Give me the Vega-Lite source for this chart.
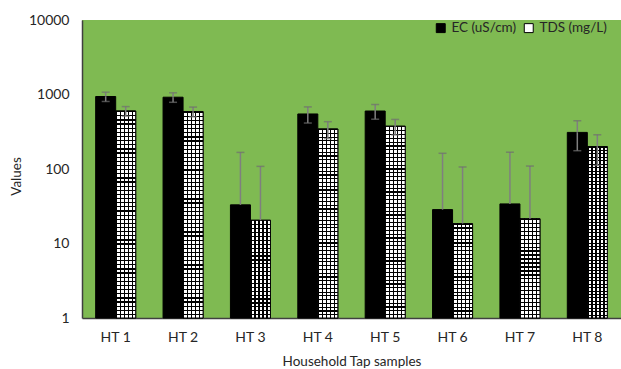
{
 "$schema": "https://vega.github.io/schema/vega-lite/v6.json",
 "width": 539,
 "height": 298,
 "autosize": {"type": "none"},
 "padding": {"left": 82, "top": 20, "right": 0, "bottom": 51},
 "background": "#ffffff",
 "config": {
  "view": {"fill": "#7fba52", "stroke": null},
  "font": "Lato",
  "axis": {"labelFontSize": 14, "labelColor": "#262626", "titleFontSize": 13.5, "titleFontWeight": "normal", "titleColor": "#262626", "domainColor": "#404040", "domainWidth": 1.5, "ticks": false, "grid": false}
 },
 "data": {"values": [
  {"sample": "HT 1", "series": "EC (uS/cm)", "value": 940, "hi": 1074, "lo": 806},
  {"sample": "HT 1", "series": "TDS (mg/L)", "value": 600, "hi": 688, "lo": 512},
  {"sample": "HT 2", "series": "EC (uS/cm)", "value": 920, "hi": 1054, "lo": 786},
  {"sample": "HT 2", "series": "TDS (mg/L)", "value": 590, "hi": 678, "lo": 502},
  {"sample": "HT 3", "series": "EC (uS/cm)", "value": 33, "hi": 167, "lo": null},
  {"sample": "HT 3", "series": "TDS (mg/L)", "value": 20.5, "hi": 108.5, "lo": null},
  {"sample": "HT 4", "series": "EC (uS/cm)", "value": 548, "hi": 682, "lo": 414},
  {"sample": "HT 4", "series": "TDS (mg/L)", "value": 344, "hi": 432, "lo": 256},
  {"sample": "HT 5", "series": "EC (uS/cm)", "value": 600, "hi": 734, "lo": 466},
  {"sample": "HT 5", "series": "TDS (mg/L)", "value": 375, "hi": 463, "lo": 287},
  {"sample": "HT 6", "series": "EC (uS/cm)", "value": 28.5, "hi": 162.5, "lo": null},
  {"sample": "HT 6", "series": "TDS (mg/L)", "value": 18.5, "hi": 106.5, "lo": null},
  {"sample": "HT 7", "series": "EC (uS/cm)", "value": 34, "hi": 168, "lo": null},
  {"sample": "HT 7", "series": "TDS (mg/L)", "value": 21.5, "hi": 109.5, "lo": null},
  {"sample": "HT 8", "series": "EC (uS/cm)", "value": 310, "hi": 444, "lo": 176},
  {"sample": "HT 8", "series": "TDS (mg/L)", "value": 200, "hi": 288, "lo": 112}
 ]},
 "encoding": {
  "x": {"field": "sample", "type": "nominal", "sort": null, "scale": {"paddingInner": 0.406, "paddingOuter": 0.203},
   "axis": {"title": "Household Tap samples", "labelAngle": 0, "labelPadding": 12, "titleY": 43, "titleBaseline": "middle"}},
  "xOffset": {"field": "series", "type": "nominal", "sort": null, "scale": {"domain": ["EC (uS/cm)", "TDS (mg/L)"]}}
 },
 "layer": [
  {
   "mark": {"type": "bar", "stroke": "#000000", "strokeWidth": 1},
   "encoding": {
    "y": {"field": "value", "type": "quantitative", "title": "Values",
     "scale": {"type": "log", "domain": [1, 10000], "nice": false},
     "axis": {"values": [1, 10, 100, 1000, 10000], "format": "d", "labelPadding": 13, "titleX": -66, "titleY": 156, "titleAngle": -90, "titleAlign": "center", "titleBaseline": "middle"}},
    "y2": {"datum": 1},
    "fill": {"field": "series", "type": "nominal", "scale": {"domain": ["EC (uS/cm)", "TDS (mg/L)"], "range": ["#000000", "#ffffff"]},
     "legend": {"title": null, "orient": "none", "legendX": 352, "legendY": 1, "direction": "horizontal", "symbolType": "square", "symbolSize": 80, "symbolStrokeColor": "#000000", "symbolStrokeWidth": 1, "labelFontSize": 13.5, "labelColor": "#262626", "columnPadding": 5, "labelOffset": 4, "padding": 0}}
   }
  },
  {
   "transform": [{"filter": "datum.series === 'TDS (mg/L)'"}],
   "mark": {"type": "bar", "stroke": "#000000", "strokeWidth": 1,
    "fill": {"gradient": "linear", "x1": 0, "y1": 0, "x2": 1, "y2": 0, "stops": [
     {"offset": 0, "color": "#000000"}, {"offset": 0.06, "color": "#000000"}, {"offset": 0.06, "color": "#ffffff"}, {"offset": 0.2, "color": "#ffffff"},
     {"offset": 0.2, "color": "#000000"}, {"offset": 0.26, "color": "#000000"}, {"offset": 0.26, "color": "#ffffff"}, {"offset": 0.4, "color": "#ffffff"},
     {"offset": 0.4, "color": "#000000"}, {"offset": 0.46, "color": "#000000"}, {"offset": 0.46, "color": "#ffffff"}, {"offset": 0.6, "color": "#ffffff"},
     {"offset": 0.6, "color": "#000000"}, {"offset": 0.66, "color": "#000000"}, {"offset": 0.66, "color": "#ffffff"}, {"offset": 0.8, "color": "#ffffff"},
     {"offset": 0.8, "color": "#000000"}, {"offset": 0.86, "color": "#000000"}, {"offset": 0.86, "color": "#ffffff"}, {"offset": 1, "color": "#ffffff"}]}},
   "encoding": {"y": {"field": "value", "type": "quantitative", "title": "Values"}, "y2": {"datum": 1}}
  },
  {
   "transform": [{"filter": "datum.series === 'TDS (mg/L)' && indexof(['HT 3','HT 6','HT 7'], datum.sample) < 0"}],
   "mark": {"type": "bar", "strokeWidth": 0,
    "fill": {"gradient": "linear", "x1": 0, "y1": 0, "x2": 0, "y2": 1, "stops": [
     {"offset": 0, "color": "#000"}, {"offset": 0.006, "color": "#000"}, {"offset": 0.006, "color": "transparent"}, {"offset": 0.02, "color": "transparent"},
     {"offset": 0.02, "color": "#000"}, {"offset": 0.026, "color": "#000"}, {"offset": 0.026, "color": "transparent"}, {"offset": 0.04, "color": "transparent"},
     {"offset": 0.04, "color": "#000"}, {"offset": 0.046, "color": "#000"}, {"offset": 0.046, "color": "transparent"}, {"offset": 0.06, "color": "transparent"},
     {"offset": 0.06, "color": "#000"}, {"offset": 0.066, "color": "#000"}, {"offset": 0.066, "color": "transparent"}, {"offset": 0.08, "color": "transparent"},
     {"offset": 0.08, "color": "#000"}, {"offset": 0.086, "color": "#000"}, {"offset": 0.086, "color": "transparent"}, {"offset": 0.1, "color": "transparent"},
     {"offset": 0.1, "color": "#000"}, {"offset": 0.106, "color": "#000"}, {"offset": 0.106, "color": "transparent"}, {"offset": 0.12, "color": "transparent"},
     {"offset": 0.12, "color": "#000"}, {"offset": 0.126, "color": "#000"}, {"offset": 0.126, "color": "transparent"}, {"offset": 0.14, "color": "transparent"},
     {"offset": 0.14, "color": "#000"}, {"offset": 0.146, "color": "#000"}, {"offset": 0.146, "color": "transparent"}, {"offset": 0.16, "color": "transparent"},
     {"offset": 0.16, "color": "#000"}, {"offset": 0.166, "color": "#000"}, {"offset": 0.166, "color": "transparent"}, {"offset": 0.18, "color": "transparent"},
     {"offset": 0.18, "color": "#000"}, {"offset": 0.186, "color": "#000"}, {"offset": 0.186, "color": "transparent"}, {"offset": 0.2, "color": "transparent"},
     {"offset": 0.2, "color": "#000"}, {"offset": 0.206, "color": "#000"}, {"offset": 0.206, "color": "transparent"}, {"offset": 0.22, "color": "transparent"},
     {"offset": 0.22, "color": "#000"}, {"offset": 0.226, "color": "#000"}, {"offset": 0.226, "color": "transparent"}, {"offset": 0.24, "color": "transparent"},
     {"offset": 0.24, "color": "#000"}, {"offset": 0.246, "color": "#000"}, {"offset": 0.246, "color": "transparent"}, {"offset": 0.26, "color": "transparent"},
     {"offset": 0.26, "color": "#000"}, {"offset": 0.266, "color": "#000"}, {"offset": 0.266, "color": "transparent"}, {"offset": 0.28, "color": "transparent"},
     {"offset": 0.28, "color": "#000"}, {"offset": 0.286, "color": "#000"}, {"offset": 0.286, "color": "transparent"}, {"offset": 0.3, "color": "transparent"},
     {"offset": 0.3, "color": "#000"}, {"offset": 0.306, "color": "#000"}, {"offset": 0.306, "color": "transparent"}, {"offset": 0.32, "color": "transparent"},
     {"offset": 0.32, "color": "#000"}, {"offset": 0.326, "color": "#000"}, {"offset": 0.326, "color": "transparent"}, {"offset": 0.34, "color": "transparent"},
     {"offset": 0.34, "color": "#000"}, {"offset": 0.346, "color": "#000"}, {"offset": 0.346, "color": "transparent"}, {"offset": 0.36, "color": "transparent"},
     {"offset": 0.36, "color": "#000"}, {"offset": 0.366, "color": "#000"}, {"offset": 0.366, "color": "transparent"}, {"offset": 0.38, "color": "transparent"},
     {"offset": 0.38, "color": "#000"}, {"offset": 0.386, "color": "#000"}, {"offset": 0.386, "color": "transparent"}, {"offset": 0.4, "color": "transparent"},
     {"offset": 0.4, "color": "#000"}, {"offset": 0.406, "color": "#000"}, {"offset": 0.406, "color": "transparent"}, {"offset": 0.42, "color": "transparent"},
     {"offset": 0.42, "color": "#000"}, {"offset": 0.426, "color": "#000"}, {"offset": 0.426, "color": "transparent"}, {"offset": 0.44, "color": "transparent"},
     {"offset": 0.44, "color": "#000"}, {"offset": 0.446, "color": "#000"}, {"offset": 0.446, "color": "transparent"}, {"offset": 0.46, "color": "transparent"},
     {"offset": 0.46, "color": "#000"}, {"offset": 0.466, "color": "#000"}, {"offset": 0.466, "color": "transparent"}, {"offset": 0.48, "color": "transparent"},
     {"offset": 0.48, "color": "#000"}, {"offset": 0.486, "color": "#000"}, {"offset": 0.486, "color": "transparent"}, {"offset": 0.5, "color": "transparent"},
     {"offset": 0.5, "color": "#000"}, {"offset": 0.506, "color": "#000"}, {"offset": 0.506, "color": "transparent"}, {"offset": 0.52, "color": "transparent"},
     {"offset": 0.52, "color": "#000"}, {"offset": 0.526, "color": "#000"}, {"offset": 0.526, "color": "transparent"}, {"offset": 0.54, "color": "transparent"},
     {"offset": 0.54, "color": "#000"}, {"offset": 0.546, "color": "#000"}, {"offset": 0.546, "color": "transparent"}, {"offset": 0.56, "color": "transparent"},
     {"offset": 0.56, "color": "#000"}, {"offset": 0.566, "color": "#000"}, {"offset": 0.566, "color": "transparent"}, {"offset": 0.58, "color": "transparent"},
     {"offset": 0.58, "color": "#000"}, {"offset": 0.586, "color": "#000"}, {"offset": 0.586, "color": "transparent"}, {"offset": 0.6, "color": "transparent"},
     {"offset": 0.6, "color": "#000"}, {"offset": 0.606, "color": "#000"}, {"offset": 0.606, "color": "transparent"}, {"offset": 0.62, "color": "transparent"},
     {"offset": 0.62, "color": "#000"}, {"offset": 0.626, "color": "#000"}, {"offset": 0.626, "color": "transparent"}, {"offset": 0.64, "color": "transparent"},
     {"offset": 0.64, "color": "#000"}, {"offset": 0.646, "color": "#000"}, {"offset": 0.646, "color": "transparent"}, {"offset": 0.66, "color": "transparent"},
     {"offset": 0.66, "color": "#000"}, {"offset": 0.666, "color": "#000"}, {"offset": 0.666, "color": "transparent"}, {"offset": 0.68, "color": "transparent"},
     {"offset": 0.68, "color": "#000"}, {"offset": 0.686, "color": "#000"}, {"offset": 0.686, "color": "transparent"}, {"offset": 0.7, "color": "transparent"},
     {"offset": 0.7, "color": "#000"}, {"offset": 0.706, "color": "#000"}, {"offset": 0.706, "color": "transparent"}, {"offset": 0.72, "color": "transparent"},
     {"offset": 0.72, "color": "#000"}, {"offset": 0.726, "color": "#000"}, {"offset": 0.726, "color": "transparent"}, {"offset": 0.74, "color": "transparent"},
     {"offset": 0.74, "color": "#000"}, {"offset": 0.746, "color": "#000"}, {"offset": 0.746, "color": "transparent"}, {"offset": 0.76, "color": "transparent"},
     {"offset": 0.76, "color": "#000"}, {"offset": 0.766, "color": "#000"}, {"offset": 0.766, "color": "transparent"}, {"offset": 0.78, "color": "transparent"},
     {"offset": 0.78, "color": "#000"}, {"offset": 0.786, "color": "#000"}, {"offset": 0.786, "color": "transparent"}, {"offset": 0.8, "color": "transparent"},
     {"offset": 0.8, "color": "#000"}, {"offset": 0.806, "color": "#000"}, {"offset": 0.806, "color": "transparent"}, {"offset": 0.82, "color": "transparent"},
     {"offset": 0.82, "color": "#000"}, {"offset": 0.826, "color": "#000"}, {"offset": 0.826, "color": "transparent"}, {"offset": 0.84, "color": "transparent"},
     {"offset": 0.84, "color": "#000"}, {"offset": 0.846, "color": "#000"}, {"offset": 0.846, "color": "transparent"}, {"offset": 0.86, "color": "transparent"},
     {"offset": 0.86, "color": "#000"}, {"offset": 0.866, "color": "#000"}, {"offset": 0.866, "color": "transparent"}, {"offset": 0.88, "color": "transparent"},
     {"offset": 0.88, "color": "#000"}, {"offset": 0.886, "color": "#000"}, {"offset": 0.886, "color": "transparent"}, {"offset": 0.9, "color": "transparent"},
     {"offset": 0.9, "color": "#000"}, {"offset": 0.906, "color": "#000"}, {"offset": 0.906, "color": "transparent"}, {"offset": 0.92, "color": "transparent"},
     {"offset": 0.92, "color": "#000"}, {"offset": 0.926, "color": "#000"}, {"offset": 0.926, "color": "transparent"}, {"offset": 0.94, "color": "transparent"},
     {"offset": 0.94, "color": "#000"}, {"offset": 0.946, "color": "#000"}, {"offset": 0.946, "color": "transparent"}, {"offset": 0.96, "color": "transparent"},
     {"offset": 0.96, "color": "#000"}, {"offset": 0.966, "color": "#000"}, {"offset": 0.966, "color": "transparent"}, {"offset": 0.98, "color": "transparent"},
     {"offset": 0.98, "color": "#000"}, {"offset": 0.986, "color": "#000"}, {"offset": 0.986, "color": "transparent"}, {"offset": 1, "color": "transparent"}]}},
   "encoding": {"y": {"field": "value", "type": "quantitative", "title": "Values"}, "y2": {"datum": 1}}
  },
  {
   "transform": [{"filter": "datum.series === 'TDS (mg/L)' && indexof(['HT 3','HT 6','HT 7'], datum.sample) >= 0"}],
   "mark": {"type": "bar", "strokeWidth": 0,
    "fill": {"gradient": "linear", "x1": 0, "y1": 0, "x2": 0, "y2": 1, "stops": [
     {"offset": 0, "color": "#000"}, {"offset": 0.012, "color": "#000"}, {"offset": 0.012, "color": "transparent"}, {"offset": 0.04, "color": "transparent"},
     {"offset": 0.04, "color": "#000"}, {"offset": 0.052, "color": "#000"}, {"offset": 0.052, "color": "transparent"}, {"offset": 0.08, "color": "transparent"},
     {"offset": 0.08, "color": "#000"}, {"offset": 0.092, "color": "#000"}, {"offset": 0.092, "color": "transparent"}, {"offset": 0.12, "color": "transparent"},
     {"offset": 0.12, "color": "#000"}, {"offset": 0.132, "color": "#000"}, {"offset": 0.132, "color": "transparent"}, {"offset": 0.16, "color": "transparent"},
     {"offset": 0.16, "color": "#000"}, {"offset": 0.172, "color": "#000"}, {"offset": 0.172, "color": "transparent"}, {"offset": 0.2, "color": "transparent"},
     {"offset": 0.2, "color": "#000"}, {"offset": 0.212, "color": "#000"}, {"offset": 0.212, "color": "transparent"}, {"offset": 0.24, "color": "transparent"},
     {"offset": 0.24, "color": "#000"}, {"offset": 0.252, "color": "#000"}, {"offset": 0.252, "color": "transparent"}, {"offset": 0.28, "color": "transparent"},
     {"offset": 0.28, "color": "#000"}, {"offset": 0.292, "color": "#000"}, {"offset": 0.292, "color": "transparent"}, {"offset": 0.32, "color": "transparent"},
     {"offset": 0.32, "color": "#000"}, {"offset": 0.332, "color": "#000"}, {"offset": 0.332, "color": "transparent"}, {"offset": 0.36, "color": "transparent"},
     {"offset": 0.36, "color": "#000"}, {"offset": 0.372, "color": "#000"}, {"offset": 0.372, "color": "transparent"}, {"offset": 0.4, "color": "transparent"},
     {"offset": 0.4, "color": "#000"}, {"offset": 0.412, "color": "#000"}, {"offset": 0.412, "color": "transparent"}, {"offset": 0.44, "color": "transparent"},
     {"offset": 0.44, "color": "#000"}, {"offset": 0.452, "color": "#000"}, {"offset": 0.452, "color": "transparent"}, {"offset": 0.48, "color": "transparent"},
     {"offset": 0.48, "color": "#000"}, {"offset": 0.492, "color": "#000"}, {"offset": 0.492, "color": "transparent"}, {"offset": 0.52, "color": "transparent"},
     {"offset": 0.52, "color": "#000"}, {"offset": 0.532, "color": "#000"}, {"offset": 0.532, "color": "transparent"}, {"offset": 0.56, "color": "transparent"},
     {"offset": 0.56, "color": "#000"}, {"offset": 0.572, "color": "#000"}, {"offset": 0.572, "color": "transparent"}, {"offset": 0.6, "color": "transparent"},
     {"offset": 0.6, "color": "#000"}, {"offset": 0.612, "color": "#000"}, {"offset": 0.612, "color": "transparent"}, {"offset": 0.64, "color": "transparent"},
     {"offset": 0.64, "color": "#000"}, {"offset": 0.652, "color": "#000"}, {"offset": 0.652, "color": "transparent"}, {"offset": 0.68, "color": "transparent"},
     {"offset": 0.68, "color": "#000"}, {"offset": 0.692, "color": "#000"}, {"offset": 0.692, "color": "transparent"}, {"offset": 0.72, "color": "transparent"},
     {"offset": 0.72, "color": "#000"}, {"offset": 0.732, "color": "#000"}, {"offset": 0.732, "color": "transparent"}, {"offset": 0.76, "color": "transparent"},
     {"offset": 0.76, "color": "#000"}, {"offset": 0.772, "color": "#000"}, {"offset": 0.772, "color": "transparent"}, {"offset": 0.8, "color": "transparent"},
     {"offset": 0.8, "color": "#000"}, {"offset": 0.812, "color": "#000"}, {"offset": 0.812, "color": "transparent"}, {"offset": 0.84, "color": "transparent"},
     {"offset": 0.84, "color": "#000"}, {"offset": 0.852, "color": "#000"}, {"offset": 0.852, "color": "transparent"}, {"offset": 0.88, "color": "transparent"},
     {"offset": 0.88, "color": "#000"}, {"offset": 0.892, "color": "#000"}, {"offset": 0.892, "color": "transparent"}, {"offset": 0.92, "color": "transparent"},
     {"offset": 0.92, "color": "#000"}, {"offset": 0.932, "color": "#000"}, {"offset": 0.932, "color": "transparent"}, {"offset": 0.96, "color": "transparent"},
     {"offset": 0.96, "color": "#000"}, {"offset": 0.972, "color": "#000"}, {"offset": 0.972, "color": "transparent"}, {"offset": 1, "color": "transparent"}]}},
   "encoding": {"y": {"field": "value", "type": "quantitative", "title": "Values"}, "y2": {"datum": 1}}
  },
  {
   "mark": {"type": "rule", "color": "#7f7f7f", "strokeWidth": 1.5},
   "encoding": {"y": {"field": "hi", "type": "quantitative", "title": "Values"}, "y2": {"field": "value"}}
  },
  {
   "mark": {"type": "rule", "color": "#7f7f7f", "strokeWidth": 1.5},
   "encoding": {"y": {"field": "lo", "type": "quantitative", "title": "Values"}, "y2": {"field": "value"}}
  },
  {
   "mark": {"type": "tick", "color": "#6f6f6f", "size": 8, "thickness": 1.5},
   "encoding": {"y": {"field": "hi", "type": "quantitative", "title": "Values"}}
  },
  {
   "mark": {"type": "tick", "color": "#6f6f6f", "size": 8, "thickness": 1.5},
   "encoding": {"y": {"field": "lo", "type": "quantitative", "title": "Values"}}
  }
 ]
}
